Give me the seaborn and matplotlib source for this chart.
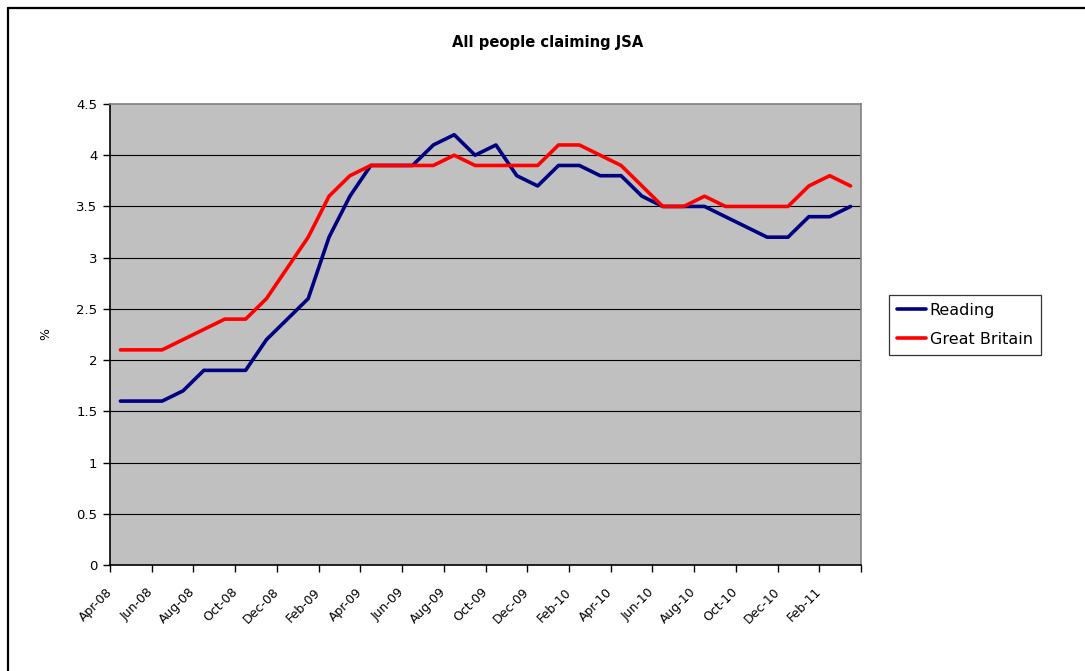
import matplotlib
matplotlib.use("Agg")
import matplotlib.pyplot as plt
from matplotlib.lines import Line2D
import numpy as np
import pandas as pd
import seaborn as sns

# Monthly claimant rate (%), Apr-08 to Mar-11
months = ["Apr-08", "May-08", "Jun-08", "Jul-08", "Aug-08", "Sep-08", "Oct-08", "Nov-08", "Dec-08",
          "Jan-09", "Feb-09", "Mar-09", "Apr-09", "May-09", "Jun-09", "Jul-09", "Aug-09", "Sep-09",
          "Oct-09", "Nov-09", "Dec-09", "Jan-10", "Feb-10", "Mar-10", "Apr-10", "May-10", "Jun-10",
          "Jul-10", "Aug-10", "Sep-10", "Oct-10", "Nov-10", "Dec-10", "Jan-11", "Feb-11", "Mar-11"]
reading = [1.6, 1.6, 1.6, 1.7, 1.9, 1.9, 1.9, 2.2, 2.4,
           2.6, 3.2, 3.6, 3.9, 3.9, 3.9, 4.1, 4.2, 4.0,
           4.1, 3.8, 3.7, 3.9, 3.9, 3.8, 3.8, 3.6, 3.5,
           3.5, 3.5, 3.4, 3.3, 3.2, 3.2, 3.4, 3.4, 3.5]
great_britain = [2.1, 2.1, 2.1, 2.2, 2.3, 2.4, 2.4, 2.6, 2.9,
                 3.2, 3.6, 3.8, 3.9, 3.9, 3.9, 3.9, 4.0, 3.9,
                 3.9, 3.9, 3.9, 4.1, 4.1, 4.0, 3.9, 3.7, 3.5,
                 3.5, 3.6, 3.5, 3.5, 3.5, 3.5, 3.7, 3.8, 3.7]
series_names = ["Reading", "Great Britain"]
series_colors = ["#000080", "#FF0000"]
y_ticks = [0, 0.5, 1, 1.5, 2, 2.5, 3, 3.5, 4, 4.5]
y_tick_labels = ["0", "0.5", "1", "1.5", "2", "2.5", "3", "3.5", "4", "4.5"]

sns.set_theme(style="white")
plt.rcParams["font.family"] = ["DejaVu Sans"]
plt.rcParams["text.color"] = "black"
plt.rcParams["axes.labelcolor"] = "black"
plt.rcParams["xtick.color"] = "black"
plt.rcParams["ytick.color"] = "black"

idx = np.arange(len(months))
df = pd.DataFrame({
    "idx": np.concatenate([idx, idx]),
    "value": reading + great_britain,
    "series": [series_names[0]] * len(months) + [series_names[1]] * len(months),
})

fig = plt.figure(figsize=(10.85, 6.71), dpi=100)
ax = fig.add_axes([110 / 1085, 1 - 565 / 671, (861 - 110) / 1085, (565 - 104) / 671])
ax.set_facecolor("#C0C0C0")

sns.lineplot(data=df, x="idx", y="value", hue="series", palette=series_colors,
             hue_order=series_names, linewidth=2.6, ax=ax, legend=False,
             solid_joinstyle="round", solid_capstyle="round", zorder=3)

ax.set_xlim(-0.5, len(months) - 0.5)
ax.set_ylim(0, 4.5)

# Horizontal gridlines
ax.set_yticks(y_ticks)
ax.set_yticklabels(y_tick_labels)
for v in y_ticks[1:-1]:
    ax.axhline(v, color="black", linewidth=0.8, zorder=1)

# Tick marks on category boundaries, labelled with every second month
boundaries = np.arange(-0.5, len(months), 2)
ax.set_xticks(boundaries)
ax.set_xticklabels(months[::2] + [""], rotation=45, ha="right", va="center",
                   rotation_mode="anchor")
ax.tick_params(axis="x", which="major", length=5, width=1, direction="out",
               pad=13, labelsize=9)
ax.tick_params(axis="y", which="major", length=5, width=1, direction="out",
               labelsize=9.5, pad=4)
ax.xaxis.set_ticks_position("bottom")
ax.yaxis.set_ticks_position("left")

ax.set_xlabel("")
ax.set_ylabel("%", fontsize=9)
ax.yaxis.set_label_coords((52 - 110) / 751, 0.5)

for side in ["left", "bottom"]:
    ax.spines[side].set_color("black")
    ax.spines[side].set_linewidth(1.2)
for side in ["top", "right"]:
    ax.spines[side].set_color("#808080")
    ax.spines[side].set_linewidth(1.2)
    ax.spines[side].set_visible(True)

fig.text(548 / 1085, 1 - 43 / 671, "All people claiming JSA", ha="center", va="center",
         fontsize=10.6, fontweight="bold")

handles = [Line2D([0], [0], color=c, linewidth=2.6) for c in series_colors]
leg = fig.legend(handles, series_names, loc="upper left",
                 bbox_to_anchor=(889 / 1085, 1 - 295 / 671), frameon=True,
                 fontsize=11.5, handlelength=1.8, handletextpad=0.25, borderpad=0.5,
                 labelspacing=0.85, fancybox=False, borderaxespad=0)
leg.get_frame().set_edgecolor("black")
leg.get_frame().set_linewidth(0.9)

# Outer frame (left and top edges)
fig.add_artist(Line2D([7.5 / 1085, 7.5 / 1085], [0, 1 - 7.5 / 671], color="black",
                      linewidth=1.6, transform=fig.transFigure))
fig.add_artist(Line2D([7.5 / 1085, 1], [1 - 7.5 / 671, 1 - 7.5 / 671], color="black",
                      linewidth=1.6, transform=fig.transFigure))

fig.savefig("out.png", dpi=100, facecolor="white")
